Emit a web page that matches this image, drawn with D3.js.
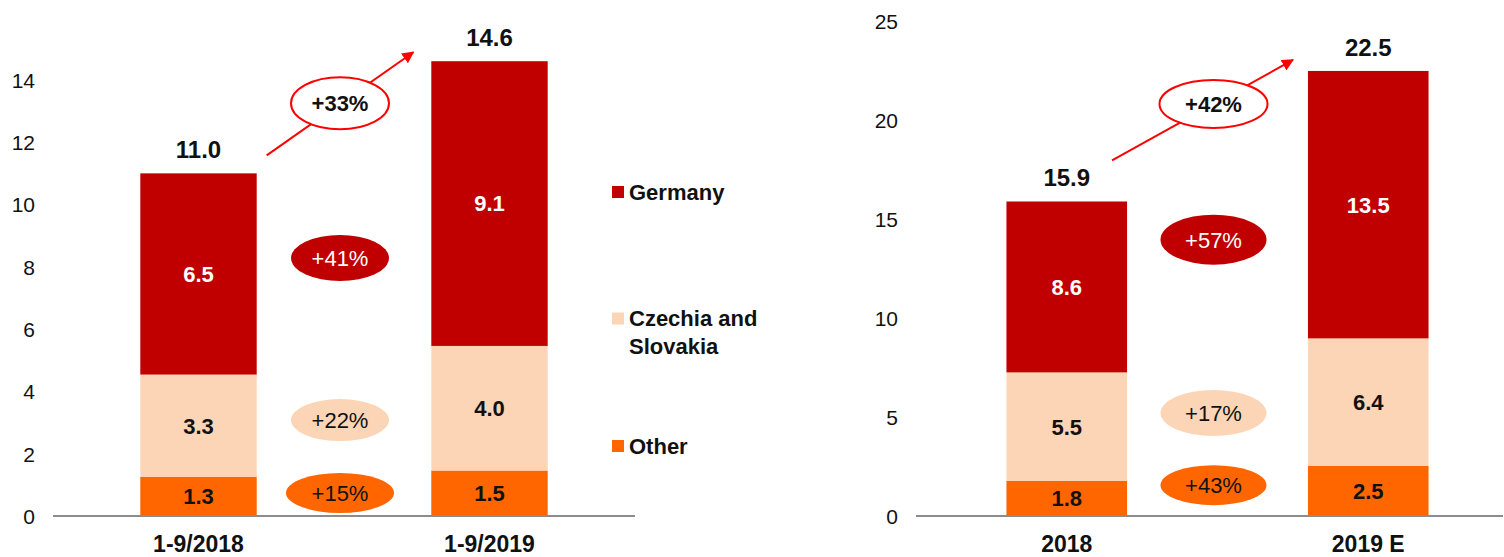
<!DOCTYPE html>
<html>
<head>
<meta charset="utf-8">
<script src="https://cdn.jsdelivr.net/npm/d3@7"></script>
<style>
  html, body { margin: 0; padding: 0; background: #fff; }
  svg { display: block; font-family: "Liberation Sans", Arial, sans-serif; }
</style>
</head>
<body>
<svg id="chart" width="1504" height="557"></svg>
<script>
// ---------- data ----------
const seriesNames = ["Other", "Czechia and Slovakia", "Germany"];
const seriesColors = ["#ff6600", "#fbd5b5", "#c00000"];

const leftCategories = ["1-9/2018", "1-9/2019"];
const leftOther   = [1.26, 1.46];
const leftCzechia = [3.28, 4.0];
const leftGermany = [6.46, 9.14];
const leftTotals  = [11.0, 14.6];
const leftTicks   = [0, 2, 4, 6, 8, 10, 12, 14];
const leftGrowth  = ["+15%", "+22%", "+41%"];   // Other, Czechia, Germany
const leftTotalGrowth = "+33%";

const rightCategories = ["2018", "2019 E"];
const rightOther   = [1.77, 2.54];
const rightCzechia = [5.49, 6.44];
const rightGermany = [8.64, 13.52];
const rightTotals  = [15.9, 22.5];
const rightTicks   = [0, 5, 10, 15, 20, 25];
const rightGrowth  = ["+43%", "+17%", "+57%"];
const rightTotalGrowth = "+42%";

// ---------- drawing ----------
const svg = d3.select("#chart");
const y0 = 516;
const fmt1 = v => (Math.round(v * 10 + 1e-6) / 10).toFixed(1);

const defs = svg.append("defs");
defs.append("marker")
  .attr("id", "arrow")
  .attr("viewBox", "0 0 10 10")
  .attr("refX", 9).attr("refY", 5)
  .attr("markerWidth", 6).attr("markerHeight", 6)
  .attr("markerUnits", "strokeWidth")
  .attr("orient", "auto")
  .append("path").attr("d", "M0,0 L10,5 L0,10 Z").attr("fill", "#ff0000");

function panel(cfg) {
  const g = svg.append("g");
  const x = d3.scaleBand().domain(cfg.categories)
    .range(cfg.xRange).paddingInner(0.6).paddingOuter(0.3);
  const y = d3.scaleLinear().domain([0, cfg.yMax]).range([y0, y0 - cfg.yMax * cfg.pxPerUnit]);

  const rows = cfg.categories.map((c, i) => ({
    cat: c, Other: cfg.other[i], "Czechia and Slovakia": cfg.czechia[i], Germany: cfg.germany[i]
  }));
  const stack = d3.stack().keys(seriesNames)(rows);

  // y axis (labels only)
  const yAxis = d3.axisLeft(y).tickValues(cfg.ticks).tickSize(0).tickPadding(0).tickFormat(d3.format("d"));
  const ya = g.append("g").attr("transform", `translate(${cfg.tickX},0)`).call(yAxis);
  ya.select(".domain").remove();
  ya.selectAll("text").attr("font-size", 21).attr("fill", "#111")
    .attr("font-family", "'Liberation Sans', Arial, sans-serif").attr("dy", "0.35em");

  // bars
  stack.forEach((layer, li) => {
    g.append("g").selectAll("rect").data(layer).join("rect")
      .attr("x", d => x(d.data.cat))
      .attr("width", x.bandwidth())
      .attr("y", d => y(d[1]))
      .attr("height", d => y(d[0]) - y(d[1]))
      .attr("fill", seriesColors[li]);
    g.append("g").selectAll("text").data(layer).join("text")
      .attr("x", d => x(d.data.cat) + x.bandwidth() / 2)
      .attr("y", d => y((d[0] + d[1]) / 2))
      .attr("dy", "0.36em")
      .attr("text-anchor", "middle")
      .attr("font-size", 22).attr("font-weight", "bold")
      .attr("fill", li === 2 ? "#fff" : "#111")
      .text(d => fmt1(d[1] - d[0]));
  });

  // baseline
  g.append("line").attr("x1", cfg.xRange[0]).attr("x2", cfg.lineEnd)
    .attr("y1", y(0)).attr("y2", y(0))
    .attr("stroke", "#8c8c8c").attr("stroke-width", 2);

  // totals
  g.append("g").selectAll("text").data(cfg.totals).join("text")
    .attr("x", (d, i) => x(cfg.categories[i]) + x.bandwidth() / 2)
    .attr("y", d => y(d) - 15)
    .attr("text-anchor", "middle")
    .attr("font-size", 24).attr("font-weight", "bold").attr("fill", "#111")
    .text(d => fmt1(d));

  // category labels
  g.append("g").selectAll("text").data(cfg.categories).join("text")
    .attr("x", d => x(d) + x.bandwidth() / 2)
    .attr("y", 552)
    .attr("text-anchor", "middle")
    .attr("font-size", 23).attr("font-weight", "bold").attr("fill", "#111")
    .text(d => d);

  // growth ellipses between bars
  const cx = (x(cfg.categories[0]) + x.bandwidth() + x(cfg.categories[1])) / 2 + cfg.ellDx;
  cfg.growth.forEach((t, i) => {
    const e = cfg.ell[i];
    g.append("ellipse").attr("cx", cx).attr("cy", y(e.v))
      .attr("rx", e.rx).attr("ry", e.ry).attr("fill", seriesColors[i]);
    g.append("text").attr("x", cx).attr("y", y(e.v)).attr("dy", "0.36em")
      .attr("text-anchor", "middle").attr("font-size", 22)
      .attr("fill", i === 2 ? "#fff" : "#111").text(t);
  });

  // total growth arrow
  const b1 = x(cfg.categories[0]), b2 = x(cfg.categories[1]);
  const a = cfg.arrow;
  g.append("line")
    .attr("x1", b1 + x.bandwidth() + a.dx1).attr("y1", y(cfg.totals[0]) + a.dy1)
    .attr("x2", b2 + a.dx2).attr("y2", y(cfg.totals[1]) + a.dy2)
    .attr("stroke", "#ff0000").attr("stroke-width", 2)
    .attr("marker-end", "url(#arrow)");
  const te = cfg.totalEll;
  g.append("ellipse").attr("cx", cx).attr("cy", y(te.v))
    .attr("rx", te.rx).attr("ry", te.ry)
    .attr("fill", "#fff").attr("stroke", "#ff0000").attr("stroke-width", 2);
  g.append("text").attr("x", cx).attr("y", y(te.v)).attr("dy", "0.36em")
    .attr("text-anchor", "middle").attr("font-size", 22).attr("font-weight", "bold")
    .attr("fill", "#111").text(cfg.totalGrowth);
}

panel({
  categories: leftCategories, other: leftOther, czechia: leftCzechia, germany: leftGermany,
  totals: leftTotals, ticks: leftTicks, growth: leftGrowth, totalGrowth: leftTotalGrowth,
  xRange: [53, 635], lineEnd: 635, yMax: 14, pxPerUnit: 31.15, tickX: 35,
  ellDx: -4,
  ell: [{v: 0.74, rx: 54, ry: 20}, {v: 3.08, rx: 49, ry: 21}, {v: 8.28, rx: 49, ry: 23}],
  totalEll: {v: 13.25, rx: 49, ry: 26},
  arrow: {dx1: 10, dy1: -18, dx2: -18, dy2: -9}
});

panel({
  categories: rightCategories, other: rightOther, czechia: rightCzechia, germany: rightGermany,
  totals: rightTotals, ticks: rightTicks, growth: rightGrowth, totalGrowth: rightTotalGrowth,
  xRange: [916, 1519], lineEnd: 1503, yMax: 25, pxPerUnit: 19.78, tickX: 898,
  ellDx: -4,
  ell: [{v: 1.56, rx: 53, ry: 20}, {v: 5.21, rx: 53, ry: 23}, {v: 13.97, rx: 53, ry: 25}],
  totalEll: {v: 20.83, rx: 54, ry: 24},
  arrow: {dx1: -15, dy1: -41, dx2: -15, dy2: -11}
});

// legend
const legend = svg.append("g").attr("font-size", 22).attr("font-weight", "bold").attr("fill", "#111");
const legendItems = [
  {i: 2, lines: ["Germany"], cy: 192},
  {i: 1, lines: ["Czechia and", "Slovakia"], cy: 318.5},
  {i: 0, lines: ["Other"], cy: 446}
];
legendItems.forEach(it => {
  legend.append("rect").attr("x", 612).attr("y", it.cy - 6).attr("width", 12).attr("height", 12)
    .attr("fill", seriesColors[it.i]);
  it.lines.forEach((l, k) => {
    legend.append("text").attr("x", 629).attr("y", it.cy + k * 28).attr("dy", "0.36em").text(l);
  });
});
</script>
</body>
</html>
